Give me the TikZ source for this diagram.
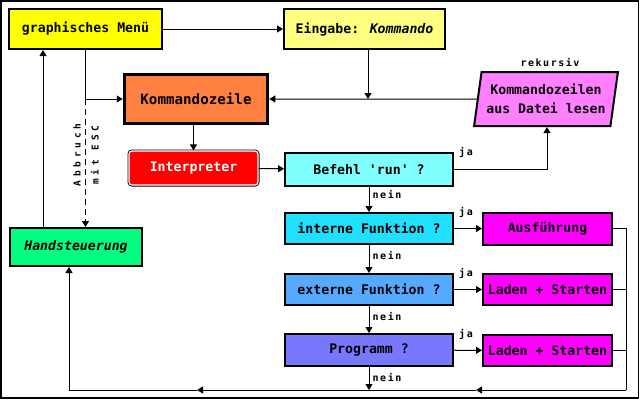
\documentclass[tikz,border=0pt]{standalone}
\usepackage{fontspec}
\usepackage{xcolor}
\usepackage{tikz}
\usetikzlibrary{arrows.meta,shapes.geometric}

\newfontfamily\pixfont{DejaVu Sans Mono}
\newfontfamily\tagfont{DejaVu Sans Mono}[LetterSpace=15]
\newfontfamily\escfont{DejaVu Sans Mono}[LetterSpace=40]

\definecolor{menuyellow}{HTML}{FFFF00}
\definecolor{inyellow}{HTML}{FFFF80}
\definecolor{cmdorange}{HTML}{FF8040}
\definecolor{filepink}{HTML}{FF80FF}
\definecolor{runcyan}{HTML}{80FFFF}
\definecolor{intcyan}{HTML}{20E0FF}
\definecolor{extblue}{HTML}{55AAFF}
\definecolor{progblue}{HTML}{7878FF}
\definecolor{doviolet}{HTML}{FF00FF}
\definecolor{handgreen}{HTML}{00FF80}

\begin{document}
\begin{tikzpicture}[x=1pt, y=-1pt,
    >={Triangle[width=7pt,length=6pt]},
    flow/.style={line width=1pt},
    box/.style={draw, line width=2pt, rectangle, inner sep=0pt,
        font=\pixfont\bfseries\fontsize{13.2}{19}\selectfont},
    tag/.style={inner sep=0pt, font=\tagfont\bfseries\fontsize{10}{12}\selectfont}]
    \useasboundingbox (0,0) rectangle (640,400);
    \draw[line width=1.5pt] (1,1) rectangle (638.5,398);

    % upper part
    \node[box, fill=menuyellow, minimum width=153, minimum height=40] (menu) at (85.5,29) {graphisches Menü};
    \node[box, fill=inyellow, minimum width=161, minimum height=40] (eingabe) at (364.5,29) {Eingabe: \textit{Kommando}};
    \node[box, line width=3.5pt, fill=cmdorange, minimum width=143, minimum height=49,
        font=\pixfont\bfseries\fontsize{14.2}{19}\selectfont] (kzeile) at (196,99) {Kommandozeile};
    \node[box, trapezium, trapezium left angle=77, trapezium right angle=103, trapezium stretches=true,
        fill=filepink, minimum width=144, minimum height=54, align=center] (datei) at (546,99) {Kommandozeilen\\aus Datei lesen};
    \node[tag] (rek) at (550,63) {rekursiv};

    % interpreter and decisions
    \node[box, draw=white, line width=1.2pt, rounded corners=3pt, fill=red, text=white,
        preaction={draw=black, line width=3pt}, minimum width=129, minimum height=34] (interp) at (193.5,168) {Interpreter};
    \node[box, fill=runcyan, minimum width=168, minimum height=33] (befehl) at (369,169.5) {Befehl 'run' ?};
    \node[box, fill=intcyan, minimum width=168, minimum height=31] (intern) at (369,228.5) {interne Funktion ?};
    \node[box, fill=extblue, minimum width=168, minimum height=31] (extern) at (369,289.5) {externe Funktion ?};
    \node[box, fill=progblue, minimum width=168, minimum height=32] (prog) at (369,350) {Programm ?};

    % actions
    \node[box, fill=doviolet, minimum width=129, minimum height=32] (ausf) at (547.5,228.5) {Ausführung};
    \node[box, fill=doviolet, minimum width=129, minimum height=31] (laden1) at (547.5,289.5) {Laden + Starten};
    \node[box, fill=doviolet, minimum width=129, minimum height=31] (laden2) at (547.5,350.5) {Laden + Starten};
    \node[box, fill=handgreen, minimum width=132, minimum height=38,
        font=\pixfont\bfseries\itshape\fontsize{13.2}{19}\selectfont] (hand) at (76,247) {Handsteuerung};

    % connectors
    \coordinate (join) at (368,99);
    \coordinate (up) at (547,169.5);
    \coordinate (hx) at (43,0);
    \coordinate (rbend) at (626,390);
    \coordinate (lbend) at (69,390);
    \coordinate (m1) at (476,390);
    \coordinate (m2) at (197,390);

    \draw[flow, ->] (menu) -- (eingabe);
    \draw[flow, ->] (menu.south) |- (kzeile.west);
    \draw[flow, ->] (join |- eingabe.south) -- (join);
    \draw[flow, ->] (datei.west) -- (kzeile.east);
    \draw[flow, ->] (interp.north |- kzeile.south) -- (interp.north);
    \draw[flow, ->] (interp) -- (befehl);
    \draw[flow, ->] (befehl.east) -- (up) -- (up |- datei.south);
    \draw[flow, ->] (befehl) -- (intern);
    \draw[flow, ->] (intern) -- (extern);
    \draw[flow, ->] (extern) -- (prog);
    \draw[flow, ->] (prog.south) -- (prog.south |- rbend);
    \draw[flow, ->] (intern) -- (ausf);
    \draw[flow, ->] (extern) -- (laden1);
    \draw[flow, ->] (prog) -- (laden2);

    % back to the manual control
    \draw[flow] (ausf.east) -| (rbend);
    \draw[flow] (laden1.east) -- (laden1.east -| rbend);
    \draw[flow] (laden2.east) -- (laden2.east -| rbend);
    \draw[flow, ->] (rbend) -- (m1);
    \draw[flow, ->] (m1) -- (m2);
    \draw[flow, ->] (m2) -- (lbend) -- (lbend |- hand.south);
    \draw[flow, ->] (hx |- hand.north) -- (hx |- menu.south);
    \draw[flow, dash pattern=on 6pt off 4pt, ->] (menu.south |- kzeile.west) -- (menu.south |- hand.north);
    \node[rotate=90, align=center, inner sep=0pt, font=\escfont\bfseries\fontsize{9.5}{18}\selectfont] (esc) at (86,155) {Abbruch\\mit ESC};

    % answers
    \node[tag] (ja1) at (466,152) {ja};
    \node[tag] (ja2) at (466,212) {ja};
    \node[tag] (ja3) at (466,273) {ja};
    \node[tag] (ja4) at (466,334) {ja};
    \node[tag] (nein1) at (387,194) {nein};
    \node[tag] (nein2) at (387,255) {nein};
    \node[tag] (nein3) at (387,316) {nein};
    \node[tag] (nein4) at (387,377) {nein};
\end{tikzpicture}
\end{document}
